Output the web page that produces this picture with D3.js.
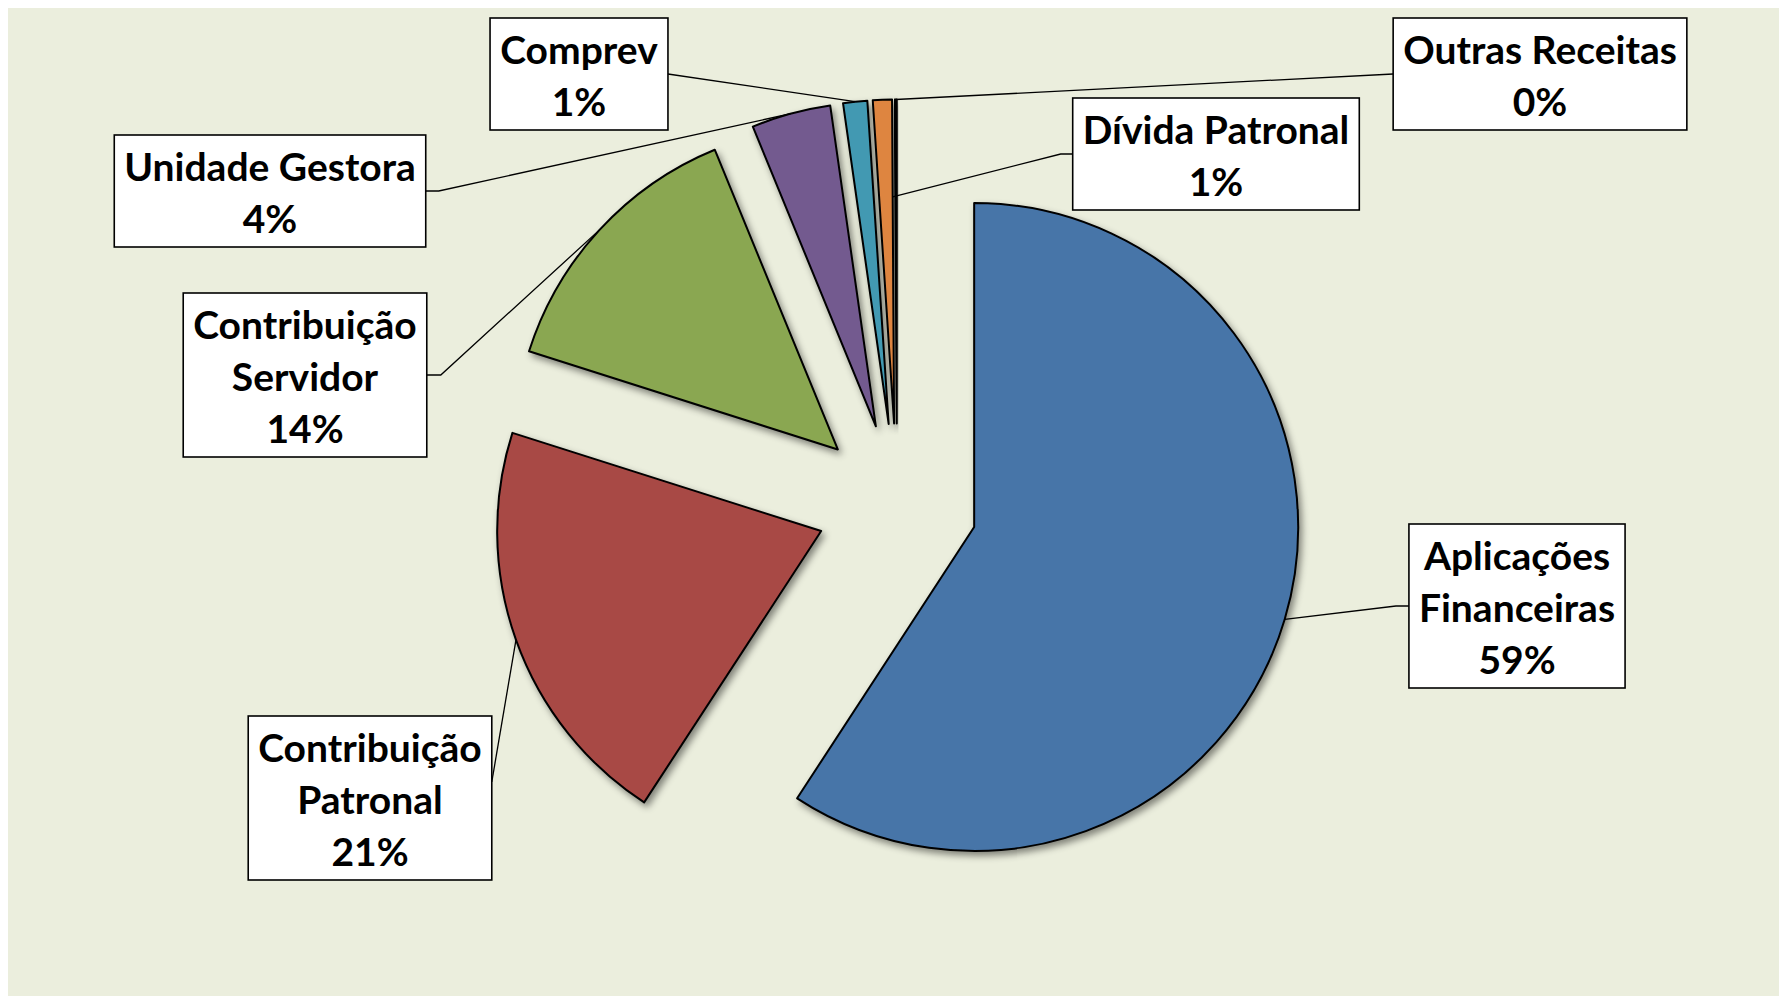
<!DOCTYPE html>
<html>
<head>
    <meta charset="utf-8">
    <title>Receitas</title>
    <script src="https://d3js.org/d3.v7.min.js"></script>
    <style>
        html, body { margin: 0; padding: 0; background: #fff; }
        #chart { display: block; }
        .lbl { font-family: Lato, "Open Sans", sans-serif; font-weight: bold; fill: #000; }
    </style>
</head>
<body>
<svg id="chart"></svg>
<script>
// dados
const categories = ["Aplicações Financeiras", "Contribuição Patronal", "Contribuição Servidor",
                    "Unidade Gestora", "Comprev", "Dívida Patronal", "Outras Receitas"];
const values = [59.2, 20.7, 13.9, 3.95, 1.2, 0.95, 0.1];
const colors = ["#4674A8", "#A84845", "#8AA751", "#735A8F", "#4299B2", "#DE8540", "#C6D9A0"];

// quebra de linha dos rótulos
const labelLines = [["Aplicações", "Financeiras"], ["Contribuição", "Patronal"], ["Contribuição", "Servidor"],
                    ["Unidade Gestora"], ["Comprev"], ["Dívida Patronal"], ["Outras Receitas"]];

// posição dos rótulos (centro da caixa), lado da linha guia, cotovelo, ponto de ancoragem na fatia
const labelPos = [
    { x: 1517, y: 606, side: "left",  elbow: 13, attach: 1.0, at: 0.5 },
    { x: 370,  y: 798, side: "right", elbow: 0,  attach: 1.0, at: 0.5, dy: -16 },
    { x: 305,  y: 375, side: "right", elbow: 14, attach: 1.0, at: 0.5 },
    { x: 270,  y: 191, side: "right", elbow: 13, attach: 1.0, at: 0.5 },
    { x: 579,  y: 74,  side: "right", elbow: 0,  attach: 1.0, at: 0.5 },
    { x: 1216, y: 154, side: "left",  elbow: 12, attach: 0.7, at: 1.0 },
    { x: 1540, y: 74,  side: "left",  elbow: 0,  attach: 1.0, at: 0.5 }
];

const width = 1779, height = 996;
const cx = 897, cy = 504, radius = 324, explode = 80.5;
const lineH = 52, fontSize = 39;

const svg = d3.select("#chart")
    .attr("width", width)
    .attr("height", height);

svg.append("rect")
    .attr("x", 8).attr("y", 8)
    .attr("width", width - 8).attr("height", height - 8)
    .attr("fill", "#EBEEDD");

const defs = svg.append("defs");
const f = defs.append("filter").attr("id", "shadow")
    .attr("x", "-20%").attr("y", "-20%").attr("width", "140%").attr("height", "140%");
f.append("feDropShadow")
    .attr("dx", 3).attr("dy", 4).attr("stdDeviation", 3.5)
    .attr("flood-color", "#000").attr("flood-opacity", 0.45);

const data = categories.map((c, i) => ({ name: c, value: values[i], i: i }));

const pie = d3.pie().sort(null).value(d => d.value).startAngle(0).endAngle(2 * Math.PI);
const arcs = pie(data);
const arc = d3.arc().innerRadius(0).outerRadius(radius);

const g = svg.append("g").attr("transform", `translate(${cx},${cy})`);

function offset(d) {
    const a = (d.startAngle + d.endAngle) / 2;
    return [Math.sin(a) * explode, -Math.cos(a) * explode];
}

g.selectAll("path.slice")
    .data(arcs)
    .join("path")
    .attr("class", "slice")
    .attr("d", arc)
    .attr("transform", d => `translate(${offset(d)})`)
    .attr("fill", d => colors[d.data.i])
    .attr("stroke", "#000")
    .attr("stroke-width", 2)
    .attr("stroke-linejoin", "round")
    .attr("filter", "url(#shadow)");

// rótulos
const labels = svg.append("g");

arcs.forEach((d, i) => {
    const p = labelPos[i];
    const lines = labelLines[i].concat([Math.round(d.data.value) + "%"]);
    const lg = labels.append("g");

    const txt = lg.append("text")
        .attr("class", "lbl")
        .attr("font-size", fontSize)
        .attr("text-anchor", "middle");
    lines.forEach((t, k) => {
        txt.append("tspan")
            .attr("x", p.x)
            .attr("y", p.y + (k - (lines.length - 1) / 2) * lineH)
            .attr("dy", "0.4em")
            .text(t);
    });

    const bb = txt.node().getBBox();
    const bw = bb.width + 20, bh = lines.length * lineH + 8;
    const bx = p.x - bw / 2, by = p.y - bh / 2;

    lg.insert("rect", "text")
        .attr("x", bx).attr("y", by)
        .attr("width", bw).attr("height", bh)
        .attr("fill", "#fff")
        .attr("stroke", "#000")
        .attr("stroke-width", 1.6);

    // linha guia
    const a = d.startAngle + (d.endAngle - d.startAngle) * p.at;
    const off = offset(d);
    const ax = cx + off[0] + Math.sin(a) * radius * p.attach;
    const ay = cy + off[1] - Math.cos(a) * radius * p.attach;
    const sx = p.side === "left" ? bx : bx + bw;
    const sy = p.y + (p.dy || 0);
    const ex = p.side === "left" ? sx - p.elbow : sx + p.elbow;

    labels.insert("path", ":first-child")
        .attr("d", d3.line()([[sx, sy], [ex, sy], [ax, ay]]))
        .attr("fill", "none")
        .attr("stroke", "#000")
        .attr("stroke-width", 1.3);
});
</script>
</body>
</html>
